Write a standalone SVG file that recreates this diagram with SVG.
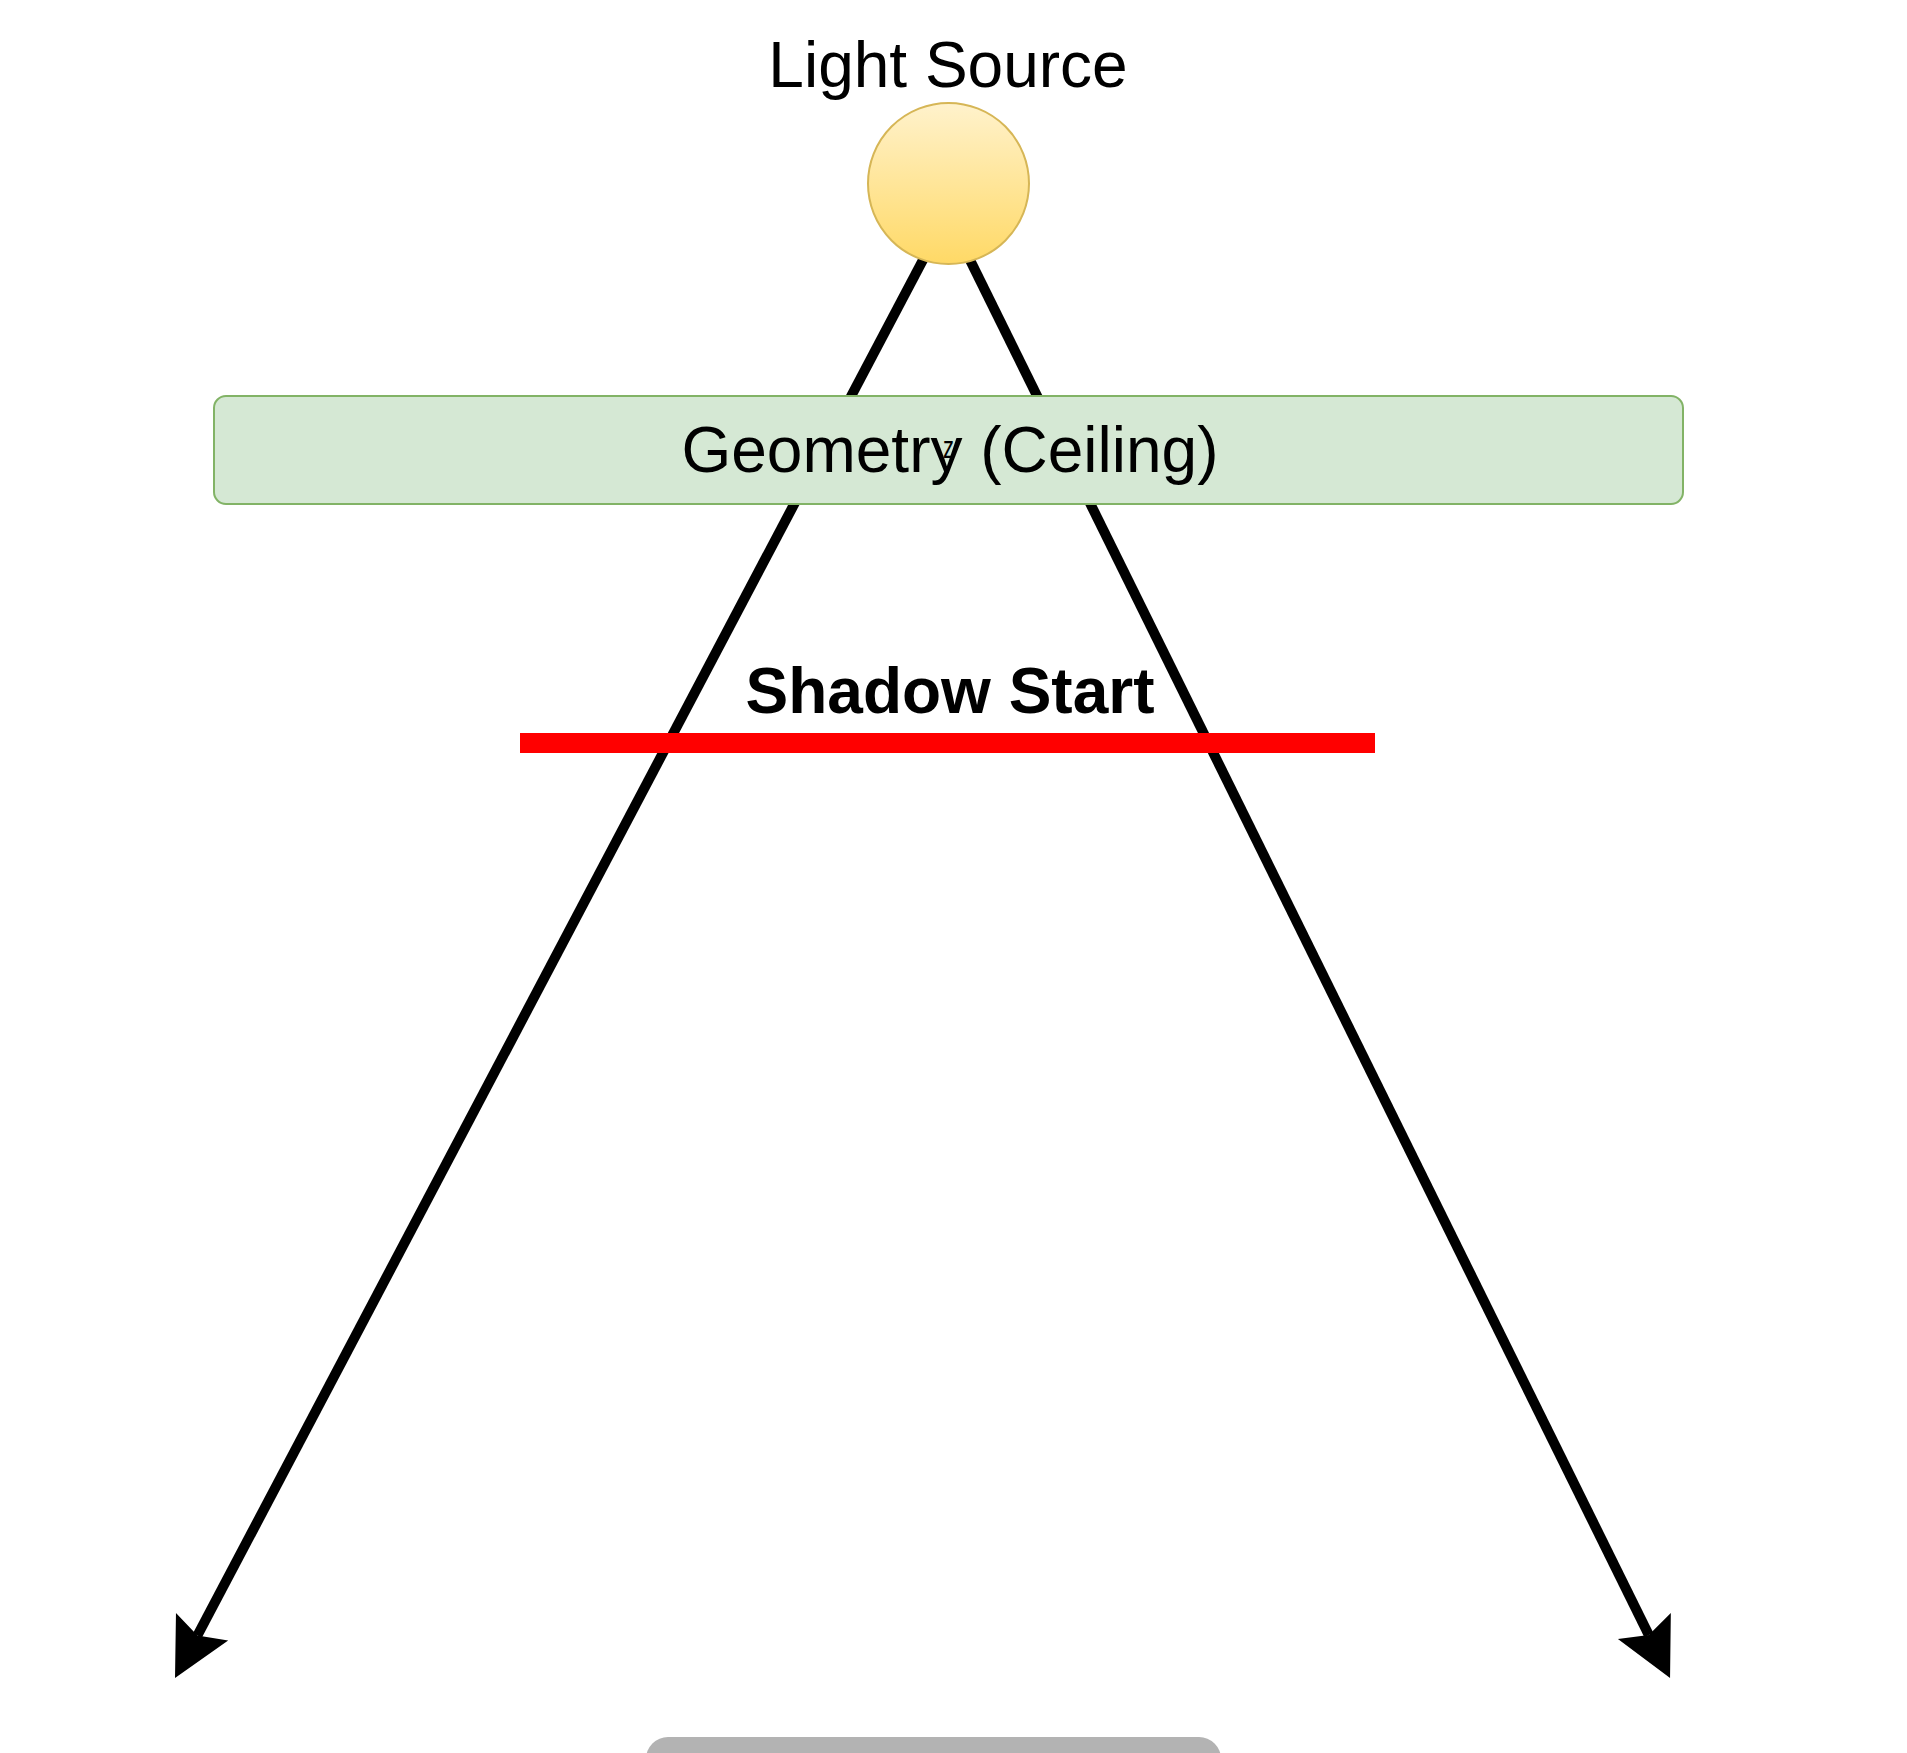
<svg xmlns="http://www.w3.org/2000/svg" width="1907" height="1753" viewBox="0 0 1907 1753">
<style>
  text { font-family: "Liberation Sans", Arial, sans-serif; fill: #000; }
  .big { font-size: 64px; }
  .ray { stroke: #000; stroke-width: 10; fill: none; marker-end: url(#arrow); }
</style>
<defs>
  <linearGradient id="sun" x1="0" y1="0" x2="0" y2="1">
    <stop offset="0" stop-color="#fff2cc"/>
    <stop offset="1" stop-color="#ffd966"/>
  </linearGradient>
  <marker id="arrow" markerUnits="userSpaceOnUse" markerWidth="120" markerHeight="120" refX="0" refY="0" orient="auto" overflow="visible" viewBox="-60 -60 120 120">
    <path d="M48,0 L-10,-29.5 L0,0 L-10,29.5 Z" fill="#000"/>
  </marker>
</defs>
<rect width="1907" height="1753" fill="#fff"/>
<g id="connectors">
  <path class="ray" d="M924,258 L197.4,1635.5"/>
  <path class="ray" d="M969,258 L1648.8,1635"/>
</g>
<g id="light-source">
  <text class="big" x="948" y="87" text-anchor="middle">Light Source</text>
  <circle cx="948.5" cy="183.5" r="80.5" fill="url(#sun)" stroke="#d6b656" stroke-width="2"/>
</g>
<g id="geometry">
  <rect x="214" y="396" width="1469" height="108" rx="12" fill="#d5e8d4" stroke="#82b366" stroke-width="2"/>
  <text class="big" x="950" y="472" text-anchor="middle">Geometry (Ceiling)</text>
  <text x="943" y="458" font-size="31" textLength="11" lengthAdjust="spacingAndGlyphs">z</text>
</g>
<g id="shadow-start">
  <text class="big" x="950" y="713" text-anchor="middle" font-weight="bold">Shadow Start</text>
  <line x1="520" y1="743" x2="1375" y2="743" stroke="#ff0000" stroke-width="20"/>
</g>
<g id="bottom-shape">
  <rect x="646" y="1737" width="575" height="60" rx="22" fill="#b3b3b3"/>
</g>
</svg>
